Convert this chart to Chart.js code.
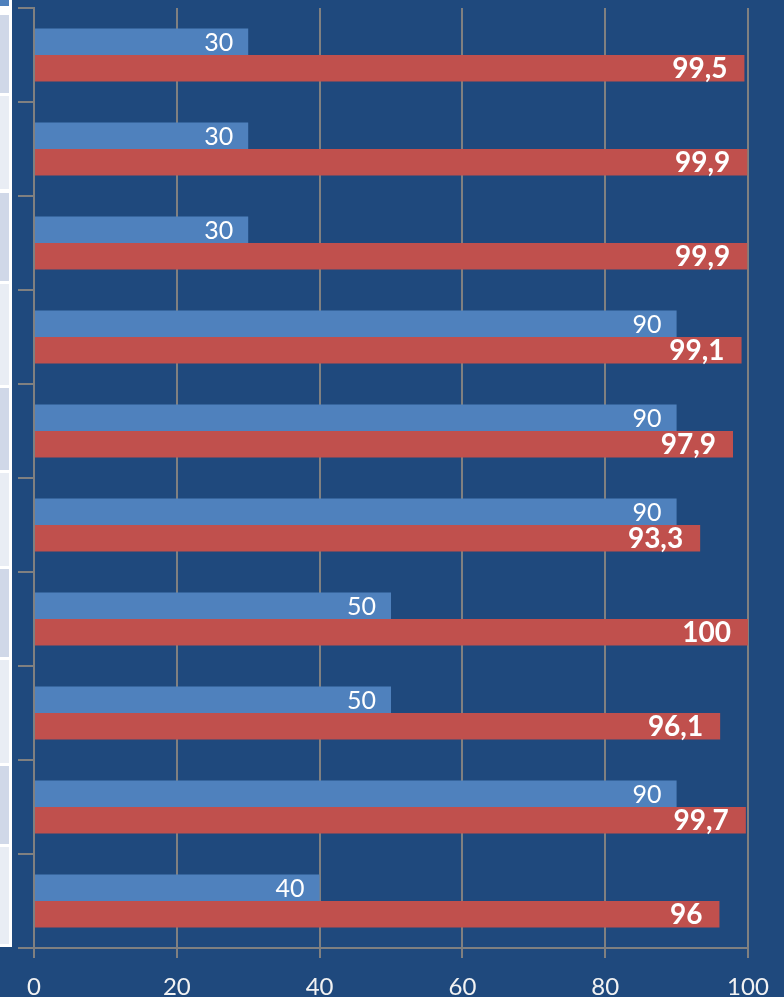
<!DOCTYPE html>
<html>
<head>
<meta charset="utf-8">
<script src="https://cdn.jsdelivr.net/npm/chart.js@4.4.0/dist/chart.umd.min.js"></script>
<style>
  html, body { margin: 0; padding: 0; background: #1F497D; }
  #wrap { position: relative; width: 784px; height: 997px; background: #1F497D; overflow: hidden; }
  #strip { position: absolute; left: 0; top: 0; width: 12px; height: 947px; background: #ffffff; }
  .cell { position: absolute; left: 0; width: 9px; }
  canvas { position: absolute; left: 0; top: 0; }
</style>
</head>
<body>
<div id="wrap">
  <div id="strip"></div>
  <canvas id="c" width="784" height="997"></canvas>
</div>
<script>
const categories = ["1", "2", "3", "4", "5", "6", "7", "8", "9", "10"];
const seriesBlue = [30, 30, 30, 90, 90, 90, 50, 50, 90, 40];
const seriesRed = [99.5, 99.9, 99.9, 99.1, 97.9, 93.3, 100, 96.1, 99.7, 96];
const xTicks = [0, 20, 40, 60, 80, 100];

// decorative cropped table strip on the left edge
const stripCells = [[0, 6, '#4F81BD'], [15, 93, '#D0D8E8'], [96, 189, '#E9EDF4'], [193, 281, '#D0D8E8'],
  [284, 385, '#E9EDF4'], [388, 470, '#D0D8E8'], [473, 566, '#E9EDF4'], [569, 657, '#D0D8E8'],
  [660, 763, '#E9EDF4'], [766, 844, '#D0D8E8'], [847, 944, '#E9EDF4']];
const strip = document.getElementById('strip');
stripCells.forEach(([a, b, col]) => {
  const d = document.createElement('div');
  d.className = 'cell';
  d.style.top = a + 'px';
  d.style.height = (b - a) + 'px';
  d.style.background = col;
  strip.appendChild(d);
});

const fmt = v => String(v).replace('.', ',');

const labelPlugin = {
  id: 'barLabels',
  afterDatasetsDraw(chart) {
    const ctx = chart.ctx;
    chart.data.datasets.forEach((ds, di) => {
      const meta = chart.getDatasetMeta(di);
      meta.data.forEach((el, i) => {
        ctx.save();
        ctx.fillStyle = '#ffffff';
        ctx.textAlign = 'right';
        ctx.textBaseline = 'middle';
        if (di === 0) {
          ctx.font = '25px Lato';
          ctx.fillText(fmt(ds.data[i]), el.x - 15, el.y + 1);
        } else {
          ctx.font = 'bold 28px Lato';
          ctx.fillText(fmt(ds.data[i]), el.x - 17, el.y + 1);
        }
        ctx.restore();
      });
    });
  }
};

new Chart(document.getElementById('c'), {
  type: 'bar',
  data: {
    labels: categories,
    datasets: [
      { label: 'A', data: seriesBlue, backgroundColor: '#4F81BD', borderWidth: 0 },
      { label: 'B', data: seriesRed, backgroundColor: '#C0504D', borderWidth: 0 }
    ]
  },
  options: {
    indexAxis: 'y',
    responsive: false,
    animation: false,
    devicePixelRatio: 1,
    categoryPercentage: 0.564,
    barPercentage: 1.0,
    layout: { padding: { top: 8, right: 36, left: 0, bottom: 0 } },
    plugins: { legend: { display: false }, tooltip: { enabled: false } },
    scales: {
      y: {
        ticks: { display: false },
        grid: { drawOnChartArea: false, color: '#808080', lineWidth: 2, tickLength: 16, offset: true },
        border: { display: true, color: '#808080', width: 2 },
        afterFit(scale) { scale.width = 34; }
      },
      x: {
        min: 0, max: 100,
        afterBuildTicks(scale) { scale.ticks = xTicks.map(v => ({ value: v })); },
        ticks: { color: '#f2f2f2', font: { family: 'Lato', size: 24 }, padding: 15 },
        grid: { color: '#808080', lineWidth: 2, tickLength: 10 },
        border: { display: true, color: '#808080', width: 2 },
        afterFit(scale) { scale.height = 49; }
      }
    }
  },
  plugins: [labelPlugin]
});
</script>
</body>
</html>
